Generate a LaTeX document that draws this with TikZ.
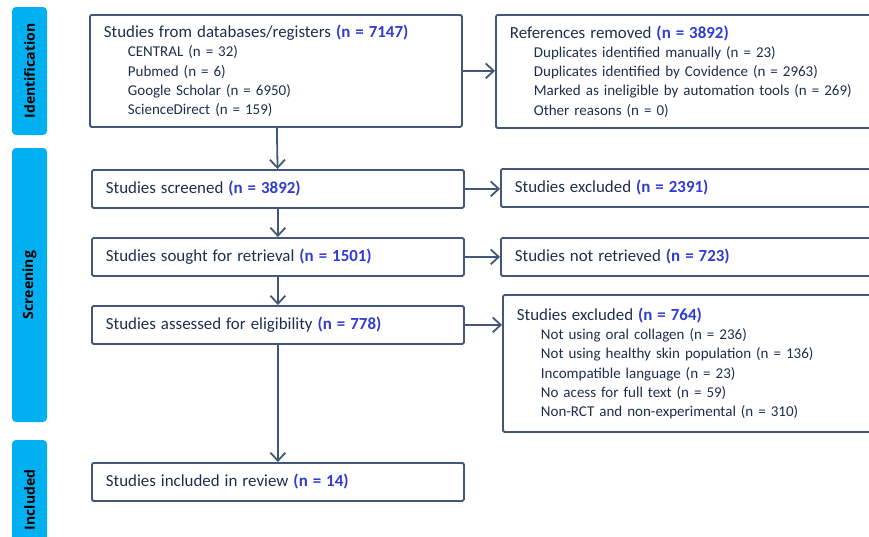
\documentclass[tikz,border=0pt]{standalone}
\usepackage{fontspec}
\setmainfont{Carlito}
\newfontfamily\tabfont{Open Sans}
\usepackage{tikz}
\usetikzlibrary{arrows.meta,positioning}
\definecolor{tab}{HTML}{00B0F0}
\definecolor{edge}{HTML}{435878}
\definecolor{ink}{HTML}{1F2D4D}
\definecolor{num}{HTML}{2F3BD3}
\newcommand{\headfont}{\fontsize{16.9}{19.3}\selectfont}
\newcommand{\nval}[1]{\textbf{\color{num}(n = #1)}}
\newcommand{\indentline}{\hspace*{24pt}}

\begin{document}
\begin{tikzpicture}[x=1pt, y=-1pt,
  box/.style={draw=edge, line width=1.8pt, rounded corners=1.5pt, anchor=north west,
              align=left, inner xsep=14pt, inner ysep=0pt, text=ink,
              font=\fontsize{15}{19.3}\selectfont},
  leftbox/.style={box, text width=344pt, minimum height=38pt},
  rightbox/.style={box, text width=362pt, minimum height=38pt},
  phase/.style={fill=tab, rounded corners=4pt, rotate=90, minimum height=35pt,
                inner sep=0pt, text=black, font=\tabfont\bfseries\fontsize{14}{16}\selectfont},
  arr/.style={draw=edge, line width=1.8pt, -{Straight Barb[length=8pt,width=15pt]}}
]
\clip (0,0) rectangle (869,536);

% phase tabs
\node[phase, minimum width=128pt] (idt) at (29.5,71) {Identification};
\node[phase, minimum width=274pt] (scrt) at (29.5,285) {Screening};
\node[phase, minimum width=120pt] (inct) at (29.5,500) {Included};

% main column
\node[leftbox, minimum height=112pt] (db) at (89,14) {{\headfont Studies from databases/registers \nval{7147}}\\
  \indentline CENTRAL (n = 32)\\
  \indentline Pubmed (n = 6)\\
  \indentline Google Scholar (n = 6950)\\
  \indentline ScienceDirect (n = 159)};
\node[leftbox] (scr) at (91,169) {\headfont Studies screened \nval{3892}};
\node[leftbox] (sgt) at (91,237) {\headfont Studies sought for retrieval \nval{1501}};
\node[leftbox] (ass) at (91,305) {\headfont Studies assessed for eligibility \nval{778}};
\node[leftbox] (inc) at (91,462) {\headfont Studies included in review \nval{14}};

% side column
\node[rightbox, minimum height=113pt] (rem) at (495,14) {{\headfont References removed \nval{3892}}\\
  \indentline Duplicates identified manually (n = 23)\\
  \indentline Duplicates identified by Covidence (n = 2963)\\
  \indentline Marked as ineligible by automation tools (n = 269)\\
  \indentline Other reasons (n = 0)};
\node[rightbox] (exa) at (500,168) {\headfont Studies excluded \nval{2391}};
\node[rightbox] (nrt) at (500,237) {\headfont Studies not retrieved \nval{723}};
\node[rightbox, minimum height=137pt] (exb) at (502,294) {{\headfont Studies excluded \nval{764}}\\
  \indentline Not using oral collagen (n = 236)\\
  \indentline Not using healthy skin population (n = 136)\\
  \indentline Incompatible language (n = 23)\\
  \indentline No acess for full text (n = 59)\\
  \indentline Non-RCT and non-experimental (n = 310)};

\draw[arr] (db) -- (scr);
\draw[arr] (scr) -- (sgt);
\draw[arr] (sgt) -- (ass);
\draw[arr] (ass) -- (inc);
\draw[arr] (db.east) -- (db.east -| rem.west);
\draw[arr] (scr.east) -- (scr.east -| exa.west);
\draw[arr] (sgt.east) -- (sgt.east -| nrt.west);
\draw[arr] (ass.east) -- (ass.east -| exb.west);
\end{tikzpicture}
\end{document}
